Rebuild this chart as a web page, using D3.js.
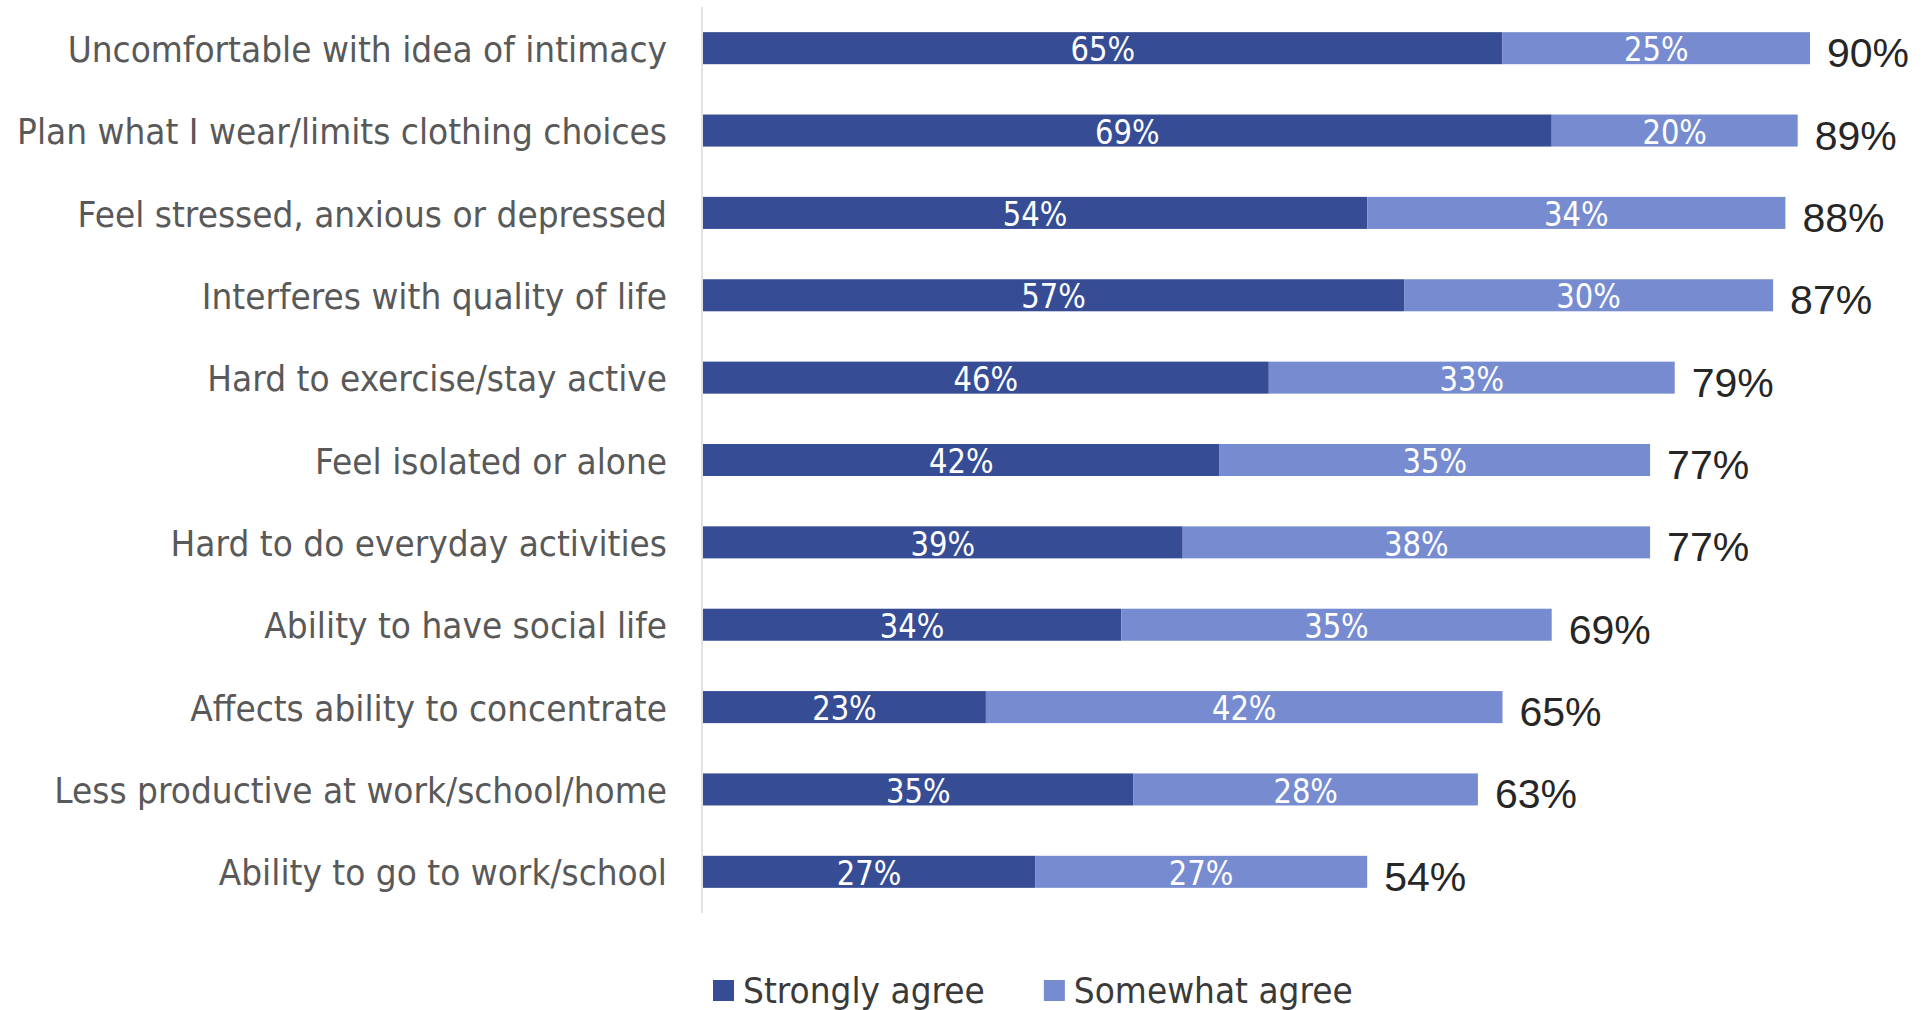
<!DOCTYPE html>
<html>
<head>
<meta charset="utf-8">
<script src="https://cdn.jsdelivr.net/npm/d3@7"></script>
<style>
  html, body { margin: 0; padding: 0; background: #ffffff; }
  svg { display: block; }
</style>
</head>
<body>
<svg id="chart" width="1929" height="1010"></svg>
<script>
// Survey items, top to bottom
const categories = [
  "Uncomfortable with idea of intimacy",
  "Plan what I wear/limits clothing choices",
  "Feel stressed, anxious or depressed",
  "Interferes with quality of life",
  "Hard to exercise/stay active",
  "Feel isolated or alone",
  "Hard to do everyday activities",
  "Ability to have social life",
  "Affects ability to concentrate",
  "Less productive at work/school/home",
  "Ability to go to work/school"
];

// Percent of respondents per answer
const stronglyAgree = [65, 69, 54, 57, 46, 42, 39, 34, 23, 35, 27];
const somewhatAgree = [25, 20, 34, 30, 33, 35, 38, 35, 42, 28, 27];

const seriesNames = ["Strongly agree", "Somewhat agree"];
const seriesColors = ["#364d96", "#778cd0"];

const svg = d3.select("#chart");

const x = d3.scaleLinear().domain([0, 100]).range([703, 1933]);
const y = d3.scaleBand()
  .domain(categories)
  .range([7, 913])
  .paddingInner(0.611)
  .paddingOuter(0.3055);

// Squeeze a text element horizontally to a fraction of its natural width
function condense(sel, factor) {
  sel.each(function () {
    const w = this.getComputedTextLength();
    d3.select(this)
      .attr("textLength", w * factor)
      .attr("lengthAdjust", "spacingAndGlyphs");
  });
}

const rows = categories.map((c, i) => ({
  category: c,
  parts: [stronglyAgree[i], somewhatAgree[i]],
  total: stronglyAgree[i] + somewhatAgree[i]
}));

// Vertical axis line
svg.append("line")
  .attr("x1", 702).attr("x2", 702)
  .attr("y1", y.range()[0]).attr("y2", y.range()[1])
  .attr("stroke", "#d9d9d9")
  .attr("stroke-width", 1.5);

// Category labels
svg.append("g")
  .selectAll("text")
  .data(rows)
  .join("text")
  .attr("x", 667)
  .attr("y", d => y(d.category) + y.bandwidth() / 2)
  .attr("dy", "0.39em")
  .attr("text-anchor", "end")
  .attr("font-family", "DejaVu Sans, Verdana, sans-serif")
  .attr("font-size", 35)
  .attr("fill", "#595959")
  .text(d => d.category)
  .call(condense, 0.94);

// Stacked segments
const segments = [];
rows.forEach(r => {
  let acc = 0;
  r.parts.forEach((v, s) => {
    segments.push({ category: r.category, series: s, x0: acc, x1: acc + v, value: v });
    acc += v;
  });
});

svg.append("g")
  .selectAll("rect")
  .data(segments)
  .join("rect")
  .attr("x", d => x(d.x0))
  .attr("y", d => y(d.category))
  .attr("width", d => x(d.x1) - x(d.x0))
  .attr("height", y.bandwidth())
  .attr("fill", d => seriesColors[d.series]);

// Segment value labels
svg.append("g")
  .selectAll("text")
  .data(segments)
  .join("text")
  .attr("x", d => (x(d.x0) + x(d.x1)) / 2)
  .attr("y", d => y(d.category) + y.bandwidth() / 2)
  .attr("dy", "0.40em")
  .attr("text-anchor", "middle")
  .attr("font-family", "DejaVu Sans, Verdana, sans-serif")
  .attr("font-size", 33)
  .attr("fill", "#ffffff")
  .text(d => d.value + "%")
  .call(condense, 0.88);

// Totals to the right of each bar
svg.append("g")
  .selectAll("text")
  .data(rows)
  .join("text")
  .attr("x", d => x(d.total) + 17)
  .attr("y", d => y(d.category) + y.bandwidth() / 2 + 19)
  .attr("font-family", "Liberation Sans, Arial, sans-serif")
  .attr("font-size", 41)
  .attr("fill", "#262626")
  .text(d => d.total + "%");

// Legend
const legend = svg.append("g").attr("transform", "translate(713, 980)");
let lx = 0;
seriesNames.forEach((name, i) => {
  const item = legend.append("g").attr("transform", `translate(${lx},0)`);
  item.append("rect")
    .attr("width", 21).attr("height", 21)
    .attr("fill", seriesColors[i]);
  const t = item.append("text")
    .attr("x", 30)
    .attr("y", 23)
    .attr("font-family", "DejaVu Sans, Verdana, sans-serif")
    .attr("font-size", 35)
    .attr("fill", "#3a3a3a")
    .text(name)
    .call(condense, 0.94);
  lx += 30 + (+t.attr("textLength")) + 59;
});
</script>
</body>
</html>
